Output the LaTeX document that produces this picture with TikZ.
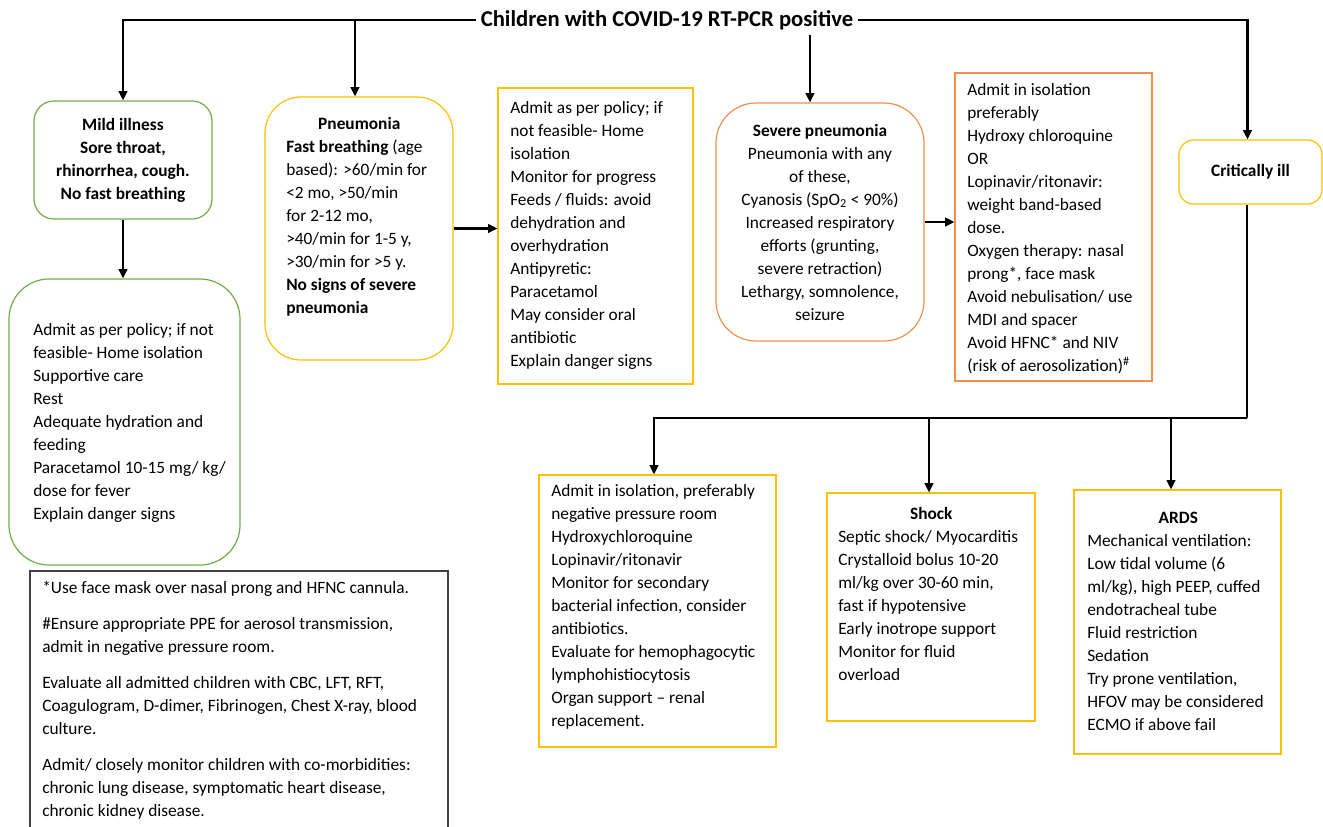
\documentclass[tikz,border=0pt]{standalone}
\usepackage{fontspec}
\setmainfont{Carlito}
\usetikzlibrary{arrows.meta,calc}
\newdimen\pxu \pxu=0.75pt
\definecolor{cgreen}{HTML}{70AD47}
\definecolor{cyellow}{HTML}{FFC000}
\definecolor{corange}{HTML}{F0904F}
\definecolor{cgray}{HTML}{404040}
\tikzset{
  every node/.style={font=\fontsize{13}{17.25}\selectfont},
  frame/.style={draw, line width=0.9pt, inner sep=0pt},
  txt/.style={anchor=base west, align=left, inner sep=0pt},
  conn/.style={draw=black, line width=1.6pt, -{Triangle[length=7pt,width=6.5pt]}},
  wire/.style={draw=black, line width=1.6pt},
}
\begin{document}
\begin{tikzpicture}[x=0.75pt, y=-0.75pt]
\useasboundingbox (0,0) rectangle (1323,826);
\fill[white] (0,0) rectangle (1323,826);
\clip (0,0) rectangle (1323,826);

% title
\node[font=\fontsize{17}{20}\selectfont\bfseries, inner sep=5\pxu] (title) at (667,20) {Children with COVID-19 RT-PCR positive};

% frames
\node[frame, draw=cgreen, rounded corners=15pt, minimum width=178\pxu, minimum height=118\pxu, align=center, font=\fontsize{13}{17.25}\selectfont\bfseries] (mild) at (123,160)
  {Mild illness\\Sore throat,\\rhinorrhea, cough.\\No fast breathing};
\node[frame, draw=cgreen, rounded corners=30pt, minimum width=231\pxu, minimum height=286\pxu] (care) at (124.5,422) {};
\node[frame, draw=cyellow, rounded corners=27pt, minimum width=188\pxu, minimum height=263\pxu] (pn) at (359,228.5) {};
\node[frame, draw=cyellow, minimum width=195\pxu, minimum height=296\pxu] (adm) at (595.5,236) {};
\node[frame, draw=corange, rounded corners=30pt, minimum width=208\pxu, minimum height=238\pxu, align=center] (sev) at (820,222)
  {\textbf{Severe pneumonia}\\Pneumonia with any\\of these,\\Cyanosis (SpO\textsubscript{2} < 90\%)\\Increased respiratory\\efforts (grunting,\\severe retraction)\\Lethargy, somnolence,\\seizure};
\node[frame, draw=corange, minimum width=197\pxu, minimum height=308\pxu] (iso) at (1053.5,227) {};
\node[frame, draw=cyellow, rounded corners=11pt, minimum width=143\pxu, minimum height=64\pxu, font=\fontsize{13}{17.25}\selectfont\bfseries] (crit) at (1250.5,172) {Critically ill};
\node[frame, draw=cyellow, minimum width=237\pxu, minimum height=272\pxu] (ic) at (657.5,611) {};
\node[frame, draw=cyellow, minimum width=208\pxu, minimum height=228\pxu] (shock) at (931,607) {};
\node[frame, draw=cyellow, minimum width=207\pxu, minimum height=264\pxu] (ards) at (1177.5,622) {};
\node[frame, draw=cgray, line width=0.8pt, minimum width=418\pxu, minimum height=300\pxu] (notes) at (239,721) {};

% texts (anchored at the baseline of their last line)
\node[txt] (caret) at (33,519) {Admit as per policy; if not\\feasible- Home isolation\\Supportive care\\Rest\\Adequate hydration and\\feeding\\Paracetamol 10-15 mg/ kg/\\dose for fever\\Explain danger signs};
\node[txt] (pnt) at (286,313) {\makebox[146\pxu][c]{\textbf{Pneumonia}}\\\textbf{Fast breathing} (age\\based): >60/min for\\<2 mo, >50/min\\for 2-12 mo,\\>40/min for 1-5 y,\\>30/min for >5 y.\\\textbf{No signs of severe}\\\textbf{pneumonia}};
\node[txt] (admt) at (510,366) {Admit as per policy; if\\not feasible- Home\\isolation\\Monitor for progress\\Feeds / fluids: avoid\\dehydration and\\overhydration\\Antipyretic:\\Paracetamol\\May consider oral\\antibiotic\\Explain danger signs};
\node[txt] (isot) at (967,371) {Admit in isolation\\preferably\\Hydroxy chloroquine\\OR\\Lopinavir/ritonavir:\\weight band-based\\dose.\\Oxygen therapy: nasal\\prong*, face mask\\Avoid nebulisation/ use\\MDI and spacer\\Avoid HFNC* and NIV\\(risk of aerosolization)\textsuperscript{\#}};
\node[txt] (ict) at (551,726) {Admit in isolation, preferably\\negative pressure room\\Hydroxychloroquine\\Lopinavir/ritonavir\\Monitor for secondary\\bacterial infection, consider\\antibiotics.\\Evaluate for hemophagocytic\\lymphohistiocytosis\\Organ support – renal\\replacement.};
\node[txt] (shockt) at (838,680) {\makebox[186\pxu][c]{\textbf{Shock}}\\Septic shock/ Myocarditis\\Crystalloid bolus 10-20\\ml/kg over 30-60 min,\\fast if hypotensive\\Early inotrope support\\Monitor for fluid\\overload};
\node[txt] (ardst) at (1087,730) {\makebox[182\pxu][c]{\textbf{ARDS}}\\Mechanical ventilation:\\Low tidal volume (6\\ml/kg), high PEEP, cuffed\\endotracheal tube\\Fluid restriction\\Sedation\\Try prone ventilation,\\HFOV may be considered\\ECMO if above fail};
\node[txt] (notest) at (42,816) {*Use face mask over nasal prong and HFNC cannula.\\[13\pxu]\#Ensure appropriate PPE for aerosol transmission,\\admit in negative pressure room.\\[13\pxu]Evaluate all admitted children with CBC, LFT, RFT,\\Coagulogram, D-dimer, Fibrinogen, Chest X-ray, blood\\culture.\\[13\pxu]Admit/ closely monitor children with co-morbidities:\\chronic lung disease, symptomatic heart disease,\\chronic kidney disease.};

% connector coordinates
\coordinate (pnin) at ($(pn.north)+(-4,0)$);
\coordinate (sevin) at ($(sev.north)+(-10,0)$);
\coordinate (critin) at ($(crit.north)+(-3,0)$);
\coordinate (bus) at ($(crit.south)+(-3.5,213)$);
\coordinate (critout) at (bus |- crit.south);
\coordinate (icin) at ($(ic.north)+(-3.5,0)$);
\coordinate (shockin) at ($(shock.north)+(-2,0)$);
\coordinate (ardsin) at ($(ards.north)+(-6.5,0)$);

% connectors
\draw[conn] (title.west) -| (mild.north);
\draw[conn] (title.west -| pnin) -- (pnin);
\draw[conn] (sevin |- title.south) -- (sevin);
\draw[conn] (title.east) -| (critin);
\draw[conn] (mild.south) -- (mild.south |- care.north);
\draw[conn] (pn.east) -- (pn.east -| adm.west);
\draw[conn] (sev.east) -- (sev.east -| iso.west);
\draw[wire] (critout) -- (bus);
\draw[conn] (bus) -| (icin);
\draw[conn] (shockin |- bus) -- (shockin);
\draw[conn] (ardsin |- bus) -- (ardsin);
\end{tikzpicture}
\end{document}
